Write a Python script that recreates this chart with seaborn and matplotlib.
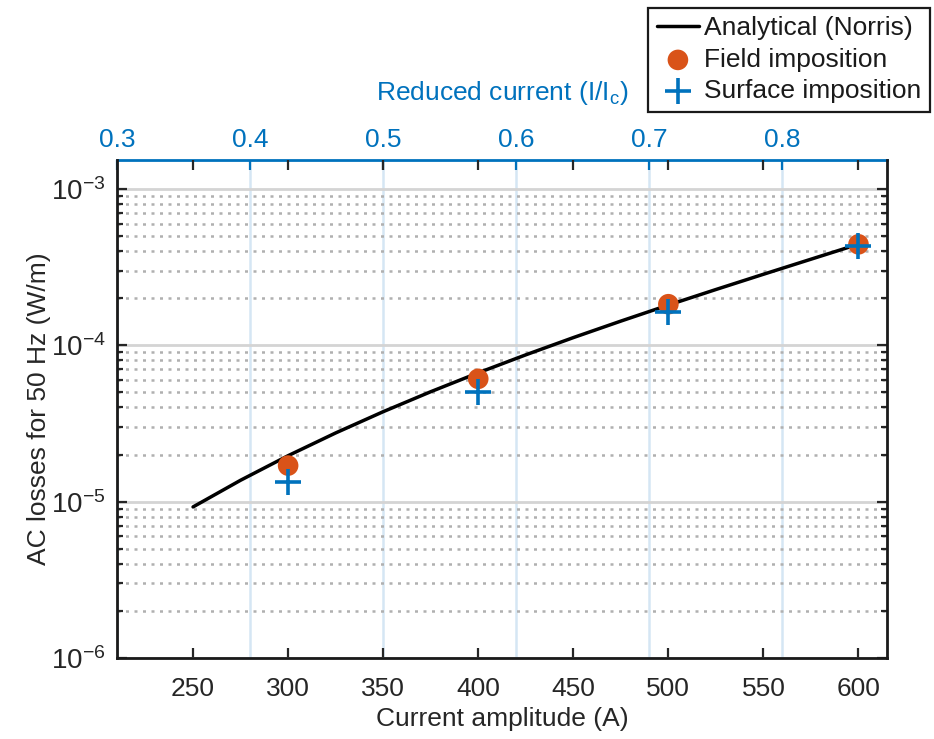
import numpy as np
import pandas as pd
import matplotlib
matplotlib.use("Agg")
import matplotlib.pyplot as plt
import seaborn as sns
from matplotlib.ticker import LogLocator, NullFormatter, FixedLocator

# Critical current used for the reduced-current axis (A)
critical_current = 700.0

# Analytical (Norris) AC losses at 50 Hz, W/m
norris_current = [250, 275, 300, 325, 350, 375, 400, 425, 450, 475, 500, 525, 550, 575, 600]
norris_loss = [9.25e-6, 1.370e-5, 1.967e-5, 2.749e-5, 3.759e-5, 5.044e-5, 6.663e-5,
               8.683e-5, 1.119e-4, 1.427e-4, 1.807e-4, 2.272e-4, 2.844e-4, 3.550e-4, 4.429e-4]

# Simulated losses
sim_current = [300, 400, 500, 600]
field_loss = [1.70e-5, 6.10e-5, 1.83e-4, 4.42e-4]
surface_loss = [1.34e-5, 5.05e-5, 1.62e-4, 4.30e-4]

x_ticks = [250, 300, 350, 400, 450, 500, 550, 600]
reduced_ticks = [0.3, 0.4, 0.5, 0.6, 0.7, 0.8]

ORANGE = "#D95319"
BLUE = "#0072BD"

sns.set_theme(style="white")
plt.rcParams["font.family"] = ["Liberation Sans", "DejaVu Sans"]
plt.rcParams["mathtext.fontset"] = "custom"
plt.rcParams["mathtext.rm"] = "Liberation Sans"
plt.rcParams["mathtext.it"] = "Liberation Sans"

FS = 19

fig = plt.figure(figsize=(9.34, 7.39), dpi=100)
ax = fig.add_axes([117 / 934, 1 - 658 / 739, (887 - 117) / 934, (658 - 160) / 739])
ax2 = ax.twiny()
ax.set_zorder(ax2.get_zorder() + 1)
ax.patch.set_visible(False)
ax2.patch.set_facecolor("white")

x_lim = (210, 615)

norris = pd.DataFrame({"I": norris_current, "Q": norris_loss})
sims = pd.DataFrame({"I": sim_current, "field": field_loss, "surface": surface_loss})

sns.lineplot(data=norris, x="I", y="Q", ax=ax, color="black", linewidth=2.5,
             label="Analytical (Norris)", zorder=3)
sns.scatterplot(data=sims, x="I", y="field", ax=ax, color=ORANGE, s=220,
                edgecolor="none", label="Field imposition", zorder=4)
sns.scatterplot(data=sims, x="I", y="surface", ax=ax, color=BLUE, marker="+", s=330,
                linewidth=2.6, label="Surface imposition", zorder=5)

ax.set_yscale("log")
ax.set_xlim(*x_lim)
ax.set_ylim(1e-6, 1.53e-3)
ax.set_xticks(x_ticks)
ax.yaxis.set_major_locator(LogLocator(base=10, numticks=10))
ax.yaxis.set_minor_locator(LogLocator(base=10, subs=np.arange(2, 10), numticks=50))
ax.yaxis.set_minor_formatter(NullFormatter())

ax.grid(False)
ax.grid(True, which="major", axis="y", color="#d4d4d4", linewidth=2.0, linestyle="-", zorder=0)
ax.grid(True, which="minor", axis="y", color="#b0b0b0", linewidth=1.8,
        linestyle=(0, (1.2, 2.2)), zorder=0)

ax.set_xlabel("Current amplitude (A)", fontsize=FS, color="#262626", labelpad=4)
ax.set_ylabel("AC losses for 50 Hz (W/m)", fontsize=FS, color="#262626", labelpad=0)
ax.tick_params(axis="both", which="major", labelsize=FS, colors="#262626",
               direction="in", length=7, width=1.6)
ax.tick_params(axis="x", which="major", top=True, bottom=True, pad=14)
ax.tick_params(axis="y", which="both", left=True, right=True, direction="in")
ax.tick_params(axis="y", which="minor", length=4, width=1.6, color="#262626")
ax.tick_params(axis="y", which="major", pad=8, labelsize=20)
for side in ["left", "bottom", "right"]:
    ax.spines[side].set_visible(True)
    ax.spines[side].set_color("#1a1a1a")
    ax.spines[side].set_linewidth(2.0)
ax.spines["top"].set_visible(False)

# Reduced-current axis on top
ax2.set_xlim(x_lim[0] / critical_current, x_lim[1] / critical_current)
ax2.xaxis.set_major_locator(FixedLocator(reduced_ticks))
ax2.set_xticklabels([f"{t:.1f}" for t in reduced_ticks])
ax2.tick_params(axis="x", labelsize=FS, colors=BLUE, direction="in", length=7,
                width=1.6, pad=6)
ax2.grid(True, axis="x", color="#d5e6f4", linewidth=1.8, zorder=0)
ax2.set_xlabel("Reduced current (I/I$_\\mathregular{c}$)", fontsize=FS, color=BLUE, labelpad=20)
for side in ["left", "bottom", "right"]:
    ax2.spines[side].set_visible(False)
ax2.spines["top"].set_color(BLUE)
ax2.spines["top"].set_linewidth(2.0)

if ax.legend_ is not None:
    ax.legend_.remove()
handles, labels = ax.get_legend_handles_labels()
leg = fig.legend(handles, labels, loc="upper right",
                 bbox_to_anchor=(930 / 934, 1 - 8 / 739), bbox_transform=fig.transFigure,
                 fontsize=FS, frameon=True, fancybox=False, framealpha=1,
                 edgecolor="#1a1a1a", borderaxespad=0, handlelength=1.6,
                 handletextpad=0.2, labelspacing=0.28, borderpad=0.32)
leg.get_frame().set_linewidth(1.6)
for t in leg.get_texts():
    t.set_color("#1a1a1a")

fig.savefig("out.png", dpi=100, facecolor="white")
